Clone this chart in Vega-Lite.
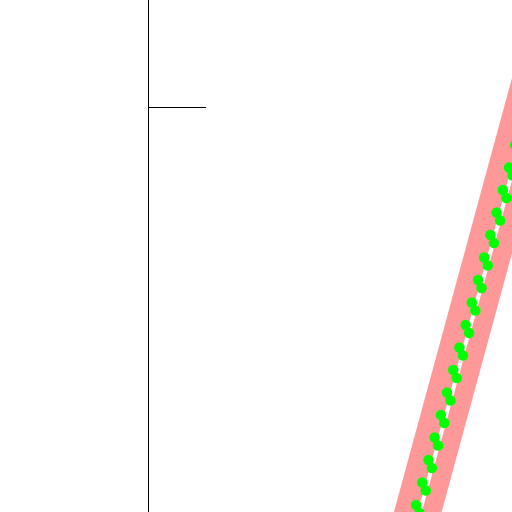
{
  "$schema": "https://vega.github.io/schema/vega-lite/v6.json",
  "width": 512,
  "height": 512,
  "autosize": {"type": "fit", "contains": "padding"},
  "padding": 0,
  "config": {"view": {"stroke": null}},
  "datasets": {
    "vline": [{"x": 148.5}],
    "hline": [{"x": 148, "x2": 206, "y": 404.5}],
    "band": [{"x": 404.2, "y": -50}, {"x": 572.8, "y": 570}],
    "center": [{"x": 406.2, "y": -50}, {"x": 574.8, "y": 570}],
    "dots": [
      {"x": 416, "y": 7}, {"x": 419.5, "y": -1},
      {"x": 422.2, "y": 29.5}, {"x": 425.7, "y": 21.5},
      {"x": 428.4, "y": 52}, {"x": 431.9, "y": 44},
      {"x": 434.6, "y": 74.5}, {"x": 438.1, "y": 66.5},
      {"x": 440.8, "y": 97}, {"x": 444.3, "y": 89},
      {"x": 447, "y": 119.5}, {"x": 450.5, "y": 111.5},
      {"x": 453.2, "y": 142}, {"x": 456.7, "y": 134},
      {"x": 459.4, "y": 164.5}, {"x": 462.9, "y": 156.5},
      {"x": 465.6, "y": 187}, {"x": 469.1, "y": 179},
      {"x": 471.8, "y": 209.5}, {"x": 475.3, "y": 201.5},
      {"x": 478, "y": 232}, {"x": 481.5, "y": 224},
      {"x": 484.2, "y": 254.5}, {"x": 487.7, "y": 246.5},
      {"x": 490.4, "y": 277}, {"x": 493.9, "y": 269},
      {"x": 496.6, "y": 299.5}, {"x": 500.1, "y": 291.5},
      {"x": 502.8, "y": 322}, {"x": 506.3, "y": 314},
      {"x": 509, "y": 344.5}, {"x": 512.5, "y": 336.5},
      {"x": 515.2, "y": 367}, {"x": 518.7, "y": 359}
    ]
  },
  "layer": [
    {
      "data": {"name": "vline"},
      "mark": {"type": "rule", "color": "black", "strokeWidth": 1, "clip": true},
      "encoding": {
        "x": {"field": "x", "type": "quantitative", "scale": {"domain": [0, 512], "nice": false, "zero": false}, "axis": null}
      }
    },
    {
      "data": {"name": "hline"},
      "mark": {"type": "rule", "color": "black", "strokeWidth": 1, "clip": true},
      "encoding": {
        "x": {"field": "x", "type": "quantitative", "scale": {"domain": [0, 512], "nice": false, "zero": false}, "axis": null},
        "x2": {"field": "x2"},
        "y": {"field": "y", "type": "quantitative", "scale": {"domain": [0, 512], "nice": false, "zero": false}, "axis": null}
      }
    },
    {
      "data": {"name": "band"},
      "mark": {"type": "line", "color": "#ff9999", "strokeWidth": 46, "clip": true},
      "encoding": {
        "x": {"field": "x", "type": "quantitative", "scale": {"domain": [0, 512], "nice": false, "zero": false}, "axis": null},
        "y": {"field": "y", "type": "quantitative", "scale": {"domain": [0, 512], "nice": false, "zero": false}, "axis": null},
        "order": {"field": "y"}
      }
    },
    {
      "data": {"name": "center"},
      "mark": {"type": "line", "color": "white", "strokeWidth": 4, "clip": true},
      "encoding": {
        "x": {"field": "x", "type": "quantitative", "scale": {"domain": [0, 512], "nice": false, "zero": false}, "axis": null},
        "y": {"field": "y", "type": "quantitative", "scale": {"domain": [0, 512], "nice": false, "zero": false}, "axis": null},
        "order": {"field": "y"}
      }
    },
    {
      "data": {"name": "dots"},
      "mark": {"type": "circle", "color": "#00ff00", "opacity": 1, "size": 110, "clip": true},
      "encoding": {
        "x": {"field": "x", "type": "quantitative", "scale": {"domain": [0, 512], "nice": false, "zero": false}, "axis": null},
        "y": {"field": "y", "type": "quantitative", "scale": {"domain": [0, 512], "nice": false, "zero": false}, "axis": null}
      }
    }
  ]
}
